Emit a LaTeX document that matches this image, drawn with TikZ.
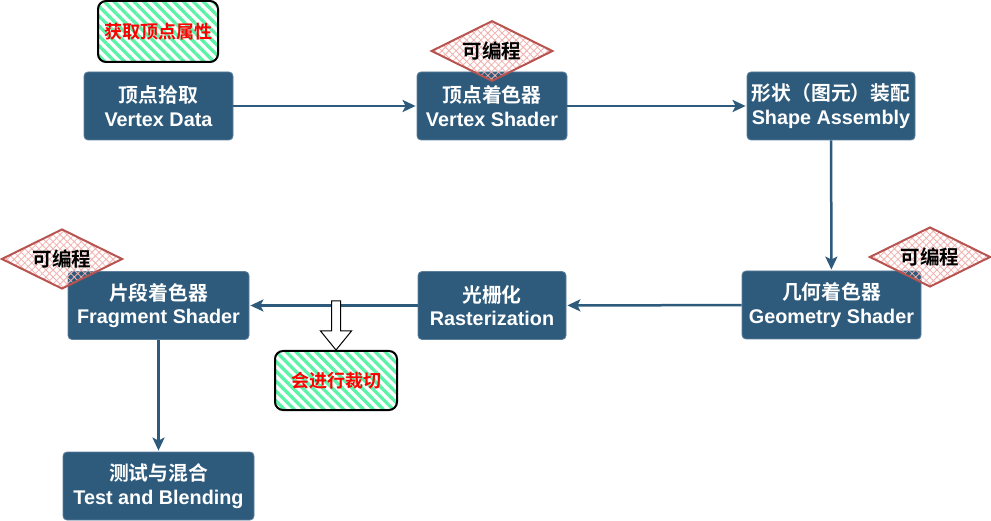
\documentclass[tikz,border=0pt]{standalone}
\usepackage{fontspec}
\setmainfont{Liberation Sans}
\newfontfamily\cjk{Noto Sans CJK SC}[BoldFont={Noto Sans CJK SC Bold}]
\usetikzlibrary{arrows.meta,patterns.meta,shapes.geometric}
\definecolor{boxblue}{HTML}{2E5B7C}
\definecolor{boxedge}{HTML}{5C7F9C}
\definecolor{mint}{HTML}{5CF2A8}
\definecolor{hatchpink}{HTML}{F2B0AE}
\definecolor{diared}{HTML}{B85450}
\begin{document}
\begin{tikzpicture}[x=1pt,y=-1pt,
  stagebox/.style={rectangle, rounded corners=4pt, fill=boxblue, draw=boxedge, line width=0.8pt,
    minimum height=68pt, text=white, font=\bfseries\fontsize{19.8}{23.5}\selectfont, align=center, inner sep=0pt},
  flow/.style={draw=boxblue, line width=2.5pt, -{Stealth[length=13pt,width=12pt,inset=3pt]}, shorten >=1pt},
  notebox/.style={rectangle, rounded corners=8pt, draw=black, line width=2pt,
    pattern={Lines[angle=-45,distance=7pt,line width=3.3pt]}, pattern color=mint,
    minimum width=120pt, minimum height=60pt, text=red, font=\bfseries\fontsize{18}{21}\selectfont\cjk, inner sep=0pt},
  progtag/.style={diamond, aspect=2, minimum width=121pt, minimum height=60pt, inner sep=0pt,
    draw=diared, line width=2pt,
    pattern={Hatch[angle=45,distance=5pt,line width=0.8pt]}, pattern color=hatchpink,
    text=black, font=\bfseries\fontsize{19.5}{22}\selectfont\cjk},
  hollow/.style={draw=black, fill=white, line width=1pt, line join=miter}
]
\fill[white] (0,0) rectangle (991,521);
\useasboundingbox (0,0) rectangle (991,521);

% stages
\node[stagebox, minimum width=149pt] (vd) at (158.5,106) {{\cjk 顶点拾取}\\Vertex Data};
\node[stagebox, minimum width=150pt] (vs) at (492,106) {{\cjk 顶点着色器}\\Vertex Shader};
\node[stagebox, minimum width=168pt] (sa) at (831,106) {{\cjk 形状（图元）装配}\\Shape Assembly};
\node[stagebox, minimum width=179pt] (gs) at (831.5,305) {{\cjk 几何着色器}\\Geometry Shader};
\node[stagebox, minimum width=148pt] (ra) at (492,305.5) {{\cjk 光栅化}\\Rasterization};
\node[stagebox, minimum width=181pt] (fs) at (158.5,305.5) {{\cjk 片段着色器}\\Fragment Shader};
\node[stagebox, minimum width=191pt] (tb) at (158.5,486) {{\cjk 测试与混合}\\Test and Blending};

% connectors
\draw[flow] (vd) -- (vs);
\draw[flow] (vs) -- (sa);
\draw[flow] (sa) -- (gs);
\draw[flow] (gs) -- (ra);
\draw[flow] (ra) -- (fs);
\draw[flow] (fs) -- (tb);

% notes
\node[notebox, minimum width=120pt, minimum height=61pt] (fetch) at (158,31.5) {获取顶点属性};
\node[notebox, minimum width=122pt, minimum height=59pt] (clip) at (336,380.5) {会进行裁切};
\coordinate (tip) at (clip.north);
\draw[hollow] (tip) -- ++(15.5,-19) -- ++(-11,0) -- ++(0,-30) -- ++(-9,0) -- ++(0,30) -- ++(-11,0) -- cycle;

% programmable tags
\node[progtag] (p1) at (492,51) {可编程};
\node[progtag] (p2) at (930,257) {可编程};
\node[progtag] (p3) at (62,259) {可编程};
\end{tikzpicture}
\end{document}
